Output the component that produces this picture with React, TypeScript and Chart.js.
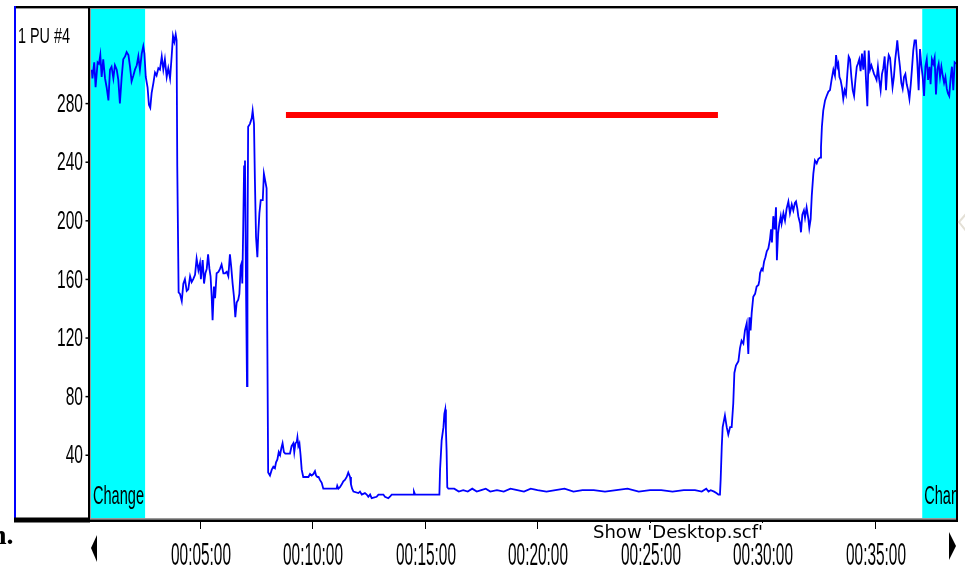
import React, { useEffect, useRef } from "react";
import { Chart, registerables } from "chart.js";

Chart.register(...registerables);

// ---- data ----
const seriesLabel = "1 PU #4";
const xTickMinutes = [5, 10, 15, 20, 25, 30, 35];
const yTickValues = [40, 80, 120, 160, 200, 240, 280];
const xMin = 0.156;
const xMax = 38.6;
const yMin = -3.0;
const yMax = 344.4;
const changeBands: [number, number][] = [
  [0.156, 2.56],
  [37.1, 38.6],
];
const bandLabels = ["Change", "Change"];
const setpointLevel = 272;
const setpointStart = 8.82;
const setpointEnd = 28.02;
const footerText = "Show 'Desktop.scf'";

// [minutes, value]
const pu4Trace: [number, number][] = [
  [0.19, 303], [0.22, 297], [0.30, 308], [0.36, 291], [0.45, 308], [0.51, 307], [0.57, 313], [0.63, 298], [0.70, 310], [0.78, 297],
  [0.85, 291], [0.93, 282], [1.00, 303], [1.07, 305], [1.15, 297], [1.22, 306], [1.30, 303], [1.37, 296], [1.44, 280], [1.52, 298],
  [1.59, 310], [1.67, 312], [1.74, 315], [1.82, 313], [1.89, 305], [1.96, 295], [2.04, 299], [2.11, 303], [2.19, 306], [2.26, 312],
  [2.33, 303], [2.41, 314], [2.48, 319], [2.53, 314], [2.59, 298], [2.67, 291], [2.73, 279], [2.79, 277], [2.85, 287], [2.93, 294],
  [3.00, 301], [3.07, 299], [3.15, 304], [3.22, 303], [3.30, 312], [3.37, 303], [3.44, 310], [3.52, 298], [3.59, 304], [3.67, 297],
  [3.74, 312], [3.80, 326], [3.86, 322], [3.92, 327], [3.96, 323], [3.99, 237], [4.05, 151],
  [4.11, 150], [4.19, 145], [4.26, 157], [4.33, 160], [4.41, 152], [4.48, 153], [4.56, 162], [4.63, 158], [4.70, 160], [4.78, 163],
  [4.85, 174], [4.93, 166], [5.00, 171], [5.04, 160], [5.12, 173], [5.18, 157], [5.24, 164], [5.30, 167], [5.36, 177], [5.42, 167],
  [5.47, 162], [5.52, 148], [5.56, 132], [5.62, 155], [5.67, 147], [5.74, 164], [5.82, 165], [5.89, 167], [5.96, 170], [6.04, 164],
  [6.11, 164], [6.19, 165], [6.26, 162], [6.33, 177], [6.39, 168], [6.45, 157], [6.51, 148], [6.57, 134], [6.63, 144], [6.70, 146],
  [6.75, 150], [6.81, 169], [6.85, 171], [6.88, 157], [6.92, 194], [6.96, 237], [7.00, 241], [7.04, 164], [7.09, 87], [7.11, 178],
  [7.14, 264], [7.22, 266], [7.30, 270], [7.34, 275], [7.40, 266], [7.44, 228], [7.49, 189], [7.55, 175], [7.59, 191], [7.64, 205],
  [7.70, 214], [7.79, 214], [7.84, 232], [7.90, 227], [7.96, 222], [7.99, 125], [8.03, 28],
  [8.11, 26], [8.19, 30], [8.26, 32], [8.33, 31], [8.38, 35], [8.44, 37], [8.50, 42], [8.56, 40], [8.62, 45], [8.67, 48],
  [8.73, 42], [8.79, 41], [8.93, 41], [9.00, 41], [9.07, 46], [9.15, 48], [9.19, 42], [9.24, 48], [9.30, 49], [9.33, 52],
  [9.37, 46], [9.42, 48], [9.47, 40], [9.52, 30], [9.59, 25], [9.82, 25], [9.89, 27], [9.96, 26], [10.04, 27], [10.11, 29],
  [10.16, 26], [10.22, 25], [10.27, 25], [10.33, 23], [10.41, 21], [10.48, 17], [11.07, 17], [11.10, 19], [11.15, 17], [11.22, 18],
  [11.30, 20], [11.37, 22], [11.44, 23], [11.52, 25], [11.59, 28], [11.67, 25], [11.71, 20], [11.76, 17], [11.82, 15], [12.04, 14],
  [12.11, 15], [12.19, 13], [12.33, 14], [12.41, 13], [12.48, 11.5], [12.56, 13], [12.63, 10.5], [12.85, 11.5], [12.93, 13], [13.15, 13],
  [13.22, 11.5], [13.37, 10.5], [13.44, 11.5], [13.52, 13], [14.48, 13], [14.51, 15], [14.56, 13], [15.64, 13], [15.67, 30], [15.74, 50],
  [15.82, 59], [15.86, 68], [15.90, 71], [15.93, 57], [15.96, 43], [15.99, 18], [16.04, 17],
  [16.3, 17], [16.5, 15], [16.7, 16], [16.9, 15], [17.1, 17], [17.3, 15], [17.5, 16], [17.7, 17], [17.9, 15], [18.2, 16],
  [18.5, 15], [18.8, 17], [19.1, 16], [19.4, 15], [19.7, 17], [20.0, 16], [20.4, 15], [20.8, 16], [21.2, 17], [21.6, 15],
  [22.0, 16], [22.5, 16], [23.0, 15], [23.5, 16], [24.0, 17], [24.5, 15], [25.0, 16], [25.5, 16], [26.0, 15], [26.5, 16],
  [27.0, 16], [27.3, 15], [27.5, 17], [27.6, 15], [27.7, 16], [27.85, 15], [27.95, 14], [28.04, 13], [28.11, 13],
  [28.14, 23], [28.19, 46], [28.23, 59], [28.33, 67], [28.41, 59], [28.48, 54], [28.56, 59], [28.63, 59], [28.70, 75], [28.75, 96],
  [28.82, 101], [28.93, 104], [29.00, 113], [29.07, 118], [29.15, 116], [29.22, 125], [29.30, 130], [29.37, 109], [29.42, 134], [29.47, 125],
  [29.52, 137], [29.59, 148], [29.67, 150], [29.74, 155], [29.82, 156], [29.86, 159], [29.89, 164], [29.96, 167], [30.01, 166], [30.07, 172],
  [30.13, 175], [30.19, 179], [30.26, 181], [30.33, 187], [30.38, 194], [30.42, 185], [30.48, 203], [30.54, 194], [30.60, 209], [30.64, 173],
  [30.69, 191], [30.75, 198], [30.81, 203], [30.85, 198], [30.93, 205], [31.00, 200], [31.07, 208], [31.15, 213], [31.22, 205], [31.30, 211],
  [31.37, 207], [31.44, 212], [31.49, 213], [31.55, 208], [31.59, 203], [31.67, 198], [31.71, 192], [31.77, 204], [31.84, 207], [31.89, 202],
  [31.96, 209], [32.04, 201], [32.08, 195], [32.14, 201], [32.19, 217], [32.26, 232], [32.33, 241], [32.41, 239], [32.48, 242], [32.56, 243],
  [32.60, 250], [32.64, 264], [32.70, 275], [32.78, 282], [32.85, 285], [32.93, 288], [33.00, 289], [33.07, 296], [33.15, 303], [33.22, 299],
  [33.27, 313], [33.33, 305], [33.37, 307], [33.42, 298], [33.47, 296], [33.53, 291], [33.59, 283], [33.65, 289], [33.71, 286], [33.77, 300],
  [33.83, 312], [33.89, 310], [33.95, 298], [34.01, 289], [34.07, 285], [34.13, 296], [34.19, 305], [34.24, 307], [34.30, 310], [34.36, 302],
  [34.42, 314], [34.48, 303], [34.54, 316], [34.60, 296], [34.66, 278], [34.72, 316], [34.78, 303], [34.84, 306], [34.90, 303], [34.96, 300],
  [35.02, 298], [35.07, 296], [35.13, 305], [35.19, 296], [35.25, 289], [35.31, 300], [35.37, 304], [35.43, 312], [35.49, 289], [35.55, 305],
  [35.61, 313], [35.67, 311], [35.73, 300], [35.78, 291], [35.84, 298], [35.90, 310], [35.96, 318], [35.99, 323], [36.05, 313], [36.11, 305],
  [36.17, 294], [36.23, 290], [36.29, 298], [36.35, 300], [36.41, 293], [36.47, 289], [36.53, 283], [36.59, 293], [36.64, 303], [36.70, 316],
  [36.76, 323], [36.82, 323], [36.88, 308], [36.94, 289], [37.00, 317], [37.06, 306], [37.12, 298], [37.18, 285], [37.24, 305], [37.30, 310],
  [37.36, 296], [37.42, 305], [37.47, 293], [37.53, 310], [37.59, 307], [37.65, 311], [37.71, 286], [37.77, 303], [37.83, 307], [37.89, 298],
  [37.95, 305], [38.01, 299], [38.07, 294], [38.13, 298], [38.19, 290], [38.24, 287], [38.30, 285], [38.36, 297], [38.42, 305], [38.48, 289],
  [38.54, 308], [38.60, 307],
];

// ---- drawing helpers ----
const W = 965;
const H = 572;
const SANS = "'Liberation Sans', Arial, sans-serif";

function fmtTime(m: number) {
  const mm = String(Math.round(m)).padStart(2, "0");
  return `00:${mm}:00`;
}

function condensedScale(ctx: CanvasRenderingContext2D, sample: string, size: number, target: number, family = SANS) {
  ctx.save();
  ctx.font = `${size}px ${family}`;
  const w = ctx.measureText(sample).width;
  ctx.restore();
  return w > 0 ? target / w : 1;
}

function drawCondensed(
  ctx: CanvasRenderingContext2D,
  text: string,
  x: number,
  baseline: number,
  size: number,
  sx: number,
  align: "left" | "right" | "center",
  color = "#000",
  family = SANS
) {
  ctx.save();
  ctx.font = `${size}px ${family}`;
  const w = ctx.measureText(text).width * sx;
  const x0 = align === "center" ? x - w / 2 : align === "right" ? x - w : x;
  ctx.translate(x0, baseline);
  ctx.scale(sx, 1);
  ctx.textAlign = "left";
  ctx.textBaseline = "alphabetic";
  ctx.fillStyle = color;
  ctx.fillText(text, 0, 0);
  ctx.restore();
}

const decor = {
  id: "decor",
  beforeDraw(chart: any) {
    const ctx = chart.ctx as CanvasRenderingContext2D;
    ctx.save();
    ctx.fillStyle = "#ffffff";
    ctx.fillRect(0, 0, W, H);
    ctx.restore();
  },
  beforeDatasetsDraw(chart: any) {
    const ctx = chart.ctx as CanvasRenderingContext2D;
    const a = chart.chartArea;
    const xs = chart.scales.x;
    ctx.save();
    ctx.fillStyle = "#00ffff";
    changeBands.forEach(([s, e]) => {
      const x0 = Math.max(a.left, xs.getPixelForValue(s));
      const x1 = Math.min(a.right, xs.getPixelForValue(e));
      ctx.fillRect(x0, a.top, x1 - x0, a.bottom - a.top);
    });
    ctx.restore();
  },
  afterDraw(chart: any) {
    const ctx = chart.ctx as CanvasRenderingContext2D;
    const a = chart.chartArea;
    const xs = chart.scales.x;
    const ys = chart.scales.y;
    ctx.save();

    // band labels
    const bandSize = 25;
    const bandSx = condensedScale(ctx, "Change", bandSize, 51);
    changeBands.forEach(([s, e], i) => {
      const x0 = Math.max(a.left, xs.getPixelForValue(s));
      const x1 = Math.min(a.right, xs.getPixelForValue(e));
      ctx.save();
      ctx.beginPath();
      ctx.rect(x0, a.top, x1 - x0, a.bottom - a.top);
      ctx.clip();
      drawCondensed(ctx, bandLabels[i], x0 + 2, 504, bandSize, bandSx, "left");
      ctx.restore();
    });

    // frame: top
    ctx.fillStyle = "#000";
    ctx.fillRect(14, 6, 944, 2);
    ctx.fillStyle = "#9a9a9a";
    ctx.fillRect(16, 8, 940, 1);
    // left panel blue edge
    ctx.fillStyle = "#0000ff";
    ctx.fillRect(14, 6, 2, 514);
    // separator
    ctx.fillStyle = "#000";
    ctx.fillRect(88, 6, 2, 516);
    ctx.fillStyle = "#9a9a9a";
    ctx.fillRect(90, 8, 1, a.bottom - 8);
    // left panel bottom
    ctx.fillStyle = "#000";
    ctx.fillRect(14, 517.5, 76, 5);
    // plot bottom
    ctx.fillStyle = "#9a9a9a";
    ctx.fillRect(90, a.bottom, 868, 1.5);
    ctx.fillStyle = "#000";
    ctx.fillRect(90, a.bottom + 1.5, 868, 2.5);
    // right border
    ctx.fillRect(a.right, 6, 2, 516);

    // x ticks + labels
    const xSize = 32;
    const xSx = condensedScale(ctx, "00:05:00", xSize, 60);
    xs.ticks.forEach((t: any) => {
      const px = Math.round(xs.getPixelForValue(t.value));
      ctx.fillStyle = "#000";
      ctx.fillRect(px, 522, 1, 7);
      drawCondensed(ctx, fmtTime(t.value), px + 1, 565, xSize, xSx, "center");
    });

    // y ticks + labels
    const ySize = 26.5;
    const ySx = condensedScale(ctx, "280", ySize, 26);
    ys.ticks.forEach((t: any) => {
      const py = ys.getPixelForValue(t.value);
      ctx.fillStyle = "#000";
      ctx.fillRect(85.5, py - 0.5, 2.5, 1.5);
      drawCondensed(ctx, String(t.value), 83, py + 8.5, ySize, ySx, "right");
    });

    // series label
    const lblSx = condensedScale(ctx, seriesLabel, 22.3, 52);
    drawCondensed(ctx, seriesLabel, 18, 42.7, 22.3, lblSx, "left");

    // footer text with white background
    ctx.fillStyle = "#ffffff";
    ctx.fillRect(590, 523, 178, 18);
    const ftFamily = "'DejaVu Sans', Verdana, sans-serif";
    const ftSx = condensedScale(ctx, footerText, 17.5, 170, ftFamily);
    drawCondensed(ctx, footerText, 593, 538, 17.5, ftSx, "left", "#000", ftFamily);

    // scroll arrows
    ctx.fillStyle = "#000";
    ctx.beginPath();
    ctx.moveTo(91, 548);
    ctx.lineTo(97, 535);
    ctx.lineTo(97, 562);
    ctx.closePath();
    ctx.fill();
    ctx.beginPath();
    ctx.moveTo(956, 546);
    ctx.lineTo(949, 532);
    ctx.lineTo(949, 560);
    ctx.closePath();
    ctx.fill();

    // stray page text
    ctx.font = "bold 28px 'Liberation Serif', 'Times New Roman', serif";
    ctx.textAlign = "left";
    ctx.textBaseline = "alphabetic";
    ctx.fillStyle = "#000";
    ctx.fillText("n.", -9, 544);

    // faint glyph at right edge
    ctx.strokeStyle = "#e4e0d6";
    ctx.lineWidth = 2;
    ctx.beginPath();
    ctx.moveTo(966, 214);
    ctx.lineTo(959, 222);
    ctx.lineTo(966, 231);
    ctx.stroke();

    ctx.restore();
  },
};

export default function App() {
  const ref = useRef<HTMLCanvasElement | null>(null);
  useEffect(() => {
    if (!ref.current) return;
    const chart = new Chart(ref.current, {
      type: "line",
      data: {
        datasets: [
          {
            label: seriesLabel,
            data: pu4Trace.map(([t, v]) => ({ x: t, y: v })),
            borderColor: "#0000ff",
            borderWidth: 1.8,
            pointRadius: 0,
            tension: 0,
            fill: false,
          },
          {
            label: "setpoint",
            data: [
              { x: setpointStart, y: setpointLevel },
              { x: setpointEnd, y: setpointLevel },
            ],
            borderColor: "#ff0000",
            borderWidth: 6,
            borderCapStyle: "butt",
            pointRadius: 0,
            fill: false,
          },
        ],
      },
      options: {
        animation: false,
        responsive: false,
        devicePixelRatio: 1,
        events: [],
        layout: { padding: { top: 9, right: 9, left: 0, bottom: 0 } },
        plugins: { legend: { display: false }, tooltip: { enabled: false } },
        scales: {
          x: {
            type: "linear",
            min: xMin,
            max: xMax,
            grid: { display: false },
            border: { display: false },
            ticks: { display: false },
            afterBuildTicks: (s: any) => {
              s.ticks = xTickMinutes.map((v) => ({ value: v }));
            },
            afterFit: (s: any) => {
              s.height = 54;
            },
          },
          y: {
            type: "linear",
            min: yMin,
            max: yMax,
            grid: { display: false },
            border: { display: false },
            ticks: { display: false },
            afterBuildTicks: (s: any) => {
              s.ticks = yTickValues.map((v) => ({ value: v }));
            },
            afterFit: (s: any) => {
              s.width = 91;
            },
          },
        },
      } as any,
      plugins: [decor],
    });
    return () => chart.destroy();
  }, []);
  return (
    <div style={{ position: "fixed", left: 0, top: 0, width: W, height: H, background: "#fff" }}>
      <canvas ref={ref} width={W} height={H} style={{ display: "block", width: W, height: H }} />
    </div>
  );
}
